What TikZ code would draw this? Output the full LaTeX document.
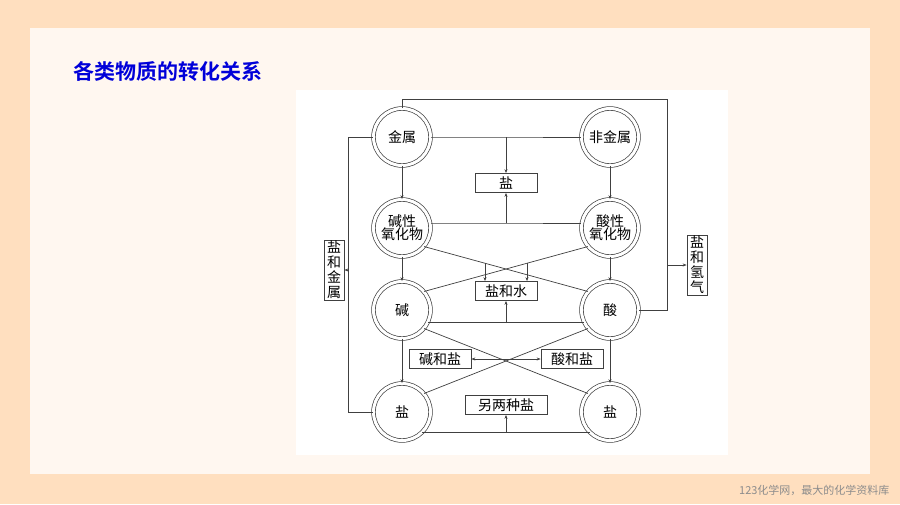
\documentclass[tikz,border=0pt]{standalone}
\usepackage{fontspec}
\newfontfamily\cjk{Noto Sans CJK SC}
\newfontfamily\cjkb{Noto Sans CJK SC Bold}
\usetikzlibrary{arrows.meta,intersections}
\begin{document}
\begin{tikzpicture}[x=1pt,y=-1pt,
  ln/.style={draw=black!75,line width=0.7pt},
  ar/.style={ln,-{Stealth[length=4pt,width=3pt]}},
  circ/.style={circle,draw=black!75,line width=0.7pt,double=white,double distance=3pt,minimum size=57pt,inner sep=0pt,font=\cjk\fontsize{14}{16}\selectfont,align=center},
  bx/.style={draw=black!75,line width=0.7pt,fill=white,font=\cjk\fontsize{14}{16}\selectfont,inner sep=1.5pt,minimum height=19pt}]
\useasboundingbox (0,0) rectangle (900,504);
\fill[orange!25!white] (0,0) rectangle (900,504);
\fill[orange!6!white] (30,28) rectangle (870,474);
\node[font=\cjkb\fontsize{21}{24}\selectfont,text=blue!85!black,anchor=west] (title) at (70,71) {各类物质的转化关系};
\node[font=\cjk\fontsize{11}{13}\selectfont,text=black!45,anchor=east] (foot) at (893,490) {123化学网，最大的化学资料库};
\fill[white] (296,90) rectangle (728,455);
% circles
\node[circ] (jin) at (402,137) {金属};
\node[circ] (fjin) at (610,137) {非金属};
\node[circ] (jy) at (402,228) {碱性\\[-3pt]氧化物};
\node[circ] (sy) at (610,228) {酸性\\[-3pt]氧化物};
\node[circ] (jian) at (402,310) {碱};
\node[circ] (suan) at (610,310) {酸};
\node[circ] (y1) at (402,412) {盐};
\node[circ] (y2) at (610,412) {盐};
% boxes
\node[bx,minimum width=62pt] (yan) at (506,183) {盐};
\node[bx,minimum width=62pt] (ysh) at (506,291) {盐和水};
\node[bx,minimum width=62pt] (jhy) at (440,359) {碱和盐};
\node[bx,minimum width=62pt] (shy) at (572,359) {酸和盐};
\node[bx,minimum width=82pt] (lly) at (506,405) {另两种盐};
\node[bx,minimum width=20pt,align=center,font=\cjk\fontsize{14}{15}\selectfont,inner sep=1pt] (yhj) at (334,270) {盐\\和\\金\\属};
\node[bx,minimum width=20pt,align=center,font=\cjk\fontsize{14}{15}\selectfont,inner sep=1pt] (yhq) at (697,265) {盐\\和\\氢\\气};
% vertical arrows
\draw[ar] (jin) -- (jy);
\draw[ar] (fjin) -- (sy);
\draw[ar] (jy) -- (jian);
\draw[ar] (sy) -- (suan);
\draw[ar] (jian) -- (y1);
\draw[ar] (suan) -- (y2);
% to 盐
\coordinate (t1) at (506,137);
\coordinate (t2) at (506,223);
\draw[ln] (jin.east) -- (t1) -- (fjin.west);
\draw[ar] (t1) -- (yan.north);
\draw[ln] (jy.east |- t2) -- (t2) -- (sy.west |- t2);
\draw[ar] (t2) -- (yan.south);
% diagonals upper
\draw[ln,name path=da] (jy.-40) -- (suan.140);
\draw[ln,name path=db] (sy.-140) -- (jian.40);
\path[name path=va] (485,200) -- (485,300);
\path[name path=vb] (527,200) -- (527,300);
\path[name intersections={of=da and va,by=d1}];
\path[name intersections={of=db and vb,by=d2}];
\draw[ar] (d1) -- (d1 |- ysh.north);
\draw[ar] (d2) -- (d2 |- ysh.north);
% bottom of 碱/酸
\coordinate (b1) at (506,323);
\draw[ln] (jian.-25) -- (suan.-155);
\draw[ar] (b1) -- (ysh.south);
% diagonals lower
\draw[ln] (jian.-40) -- (y2.140);
\draw[ln] (suan.-140) -- (y1.40);
\coordinate (c) at (506,359);
\draw[ar] (c) -- (jhy.east);
\draw[ar] (c) -- (shy.west);
% bottom salts
\coordinate (b2) at (506,432);
\draw[ln] (y1.-45) -- (y2.-135);
\draw[ar] (b2) -- (lly.south);
% 盐和金属
\coordinate (L1) at (348,412);
\coordinate (L2) at (348,137);
\draw[ln] (y1.west) -- (L1) -- (L2) -- (jin.west);
\draw[ar] (348,270) -- (yhj.east);
% 盐和氢气
\coordinate (R1) at (402,99);
\coordinate (R2) at (667,99);
\coordinate (R3) at (667,310);
\draw[ln] (jin.north) -- (R1) -- (R2) -- (R3) -- (suan.east);
\draw[ar] (667,265) -- (yhq.west);
\end{tikzpicture}
\end{document}
